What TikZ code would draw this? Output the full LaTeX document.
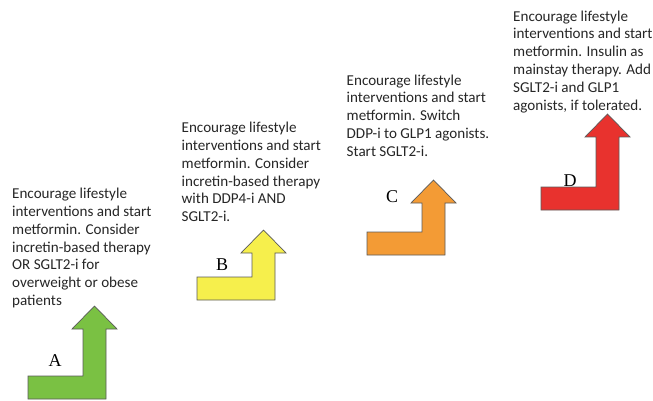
\documentclass[tikz,border=0pt]{standalone}
\usepackage{fontspec}
\setmainfont{Carlito}
\newfontfamily\stagefont{Liberation Serif}
\usepackage{xcolor}
\usepackage{tikz}

\definecolor{stageA}{HTML}{7AC143}
\definecolor{stageB}{HTML}{F6EF4C}
\definecolor{stageC}{HTML}{F39B35}
\definecolor{stageD}{HTML}{E8322E}
\definecolor{edgegray}{HTML}{5A5A5A}
\definecolor{textgray}{HTML}{262626}

% bent arrow: #1,#2 lower left corner, #3 shaft length, #4 fill colour
\newcommand{\stairarrow}[4]{%
  \filldraw[arrowbody, fill=#4] (#1,#2) -- ++(78,0) -- ++(0,-23-#3) -- ++(11,0)
    -- ++(-22.5,-23) -- ++(-22.5,23) -- ++(11,0) -- ++(0,#3) -- ++(-55,0) -- cycle;}

\begin{document}
\begin{tikzpicture}[x=1pt, y=-1pt,
  arrowbody/.style={draw=edgegray, line width=0.7pt, line join=miter},
  advice/.style={anchor=north west, inner sep=0pt, align=left, text=textgray,
    font=\fontsize{15.1}{17.8}\selectfont},
  stagelabel/.style={inner sep=0pt, text=black, font=\stagefont\fontsize{18}{20}\selectfont}]
\useasboundingbox (0,0) rectangle (653,401);

\stairarrow{28}{399}{47}{stageA}
\stairarrow{197}{300}{24}{stageB}
\stairarrow{367}{255}{29}{stageC}
\stairarrow{541}{210}{50}{stageD}

\node[stagelabel] (labA) at (55,361) {A};
\node[stagelabel] (labB) at (222,265) {B};
\node[stagelabel] (labC) at (392,197) {C};
\node[stagelabel] (labD) at (570,181) {D};

\node[advice] (textA) at (12,188) {Encourage lifestyle\\interventions and start\\metformin. Consider\\incretin-based therapy\\OR SGLT2-i for\\overweight or obese\\patients};
\node[advice] (textB) at (181.5,122) {Encourage lifestyle\\interventions and start\\metformin. Consider\\incretin-based therapy\\with DDP4-i AND\\SGLT2-i.};
\node[advice] (textC) at (346.5,74.5) {Encourage lifestyle\\interventions and start\\metformin. Switch\\DDP-i to GLP1 agonists.\\Start SGLT2-i.};
\node[advice] (textD) at (513,10.5) {Encourage lifestyle\\interventions and start\\metformin. Insulin as\\mainstay therapy. Add\\SGLT2-i and GLP1\\agonists, if tolerated.};
\end{tikzpicture}
\end{document}
